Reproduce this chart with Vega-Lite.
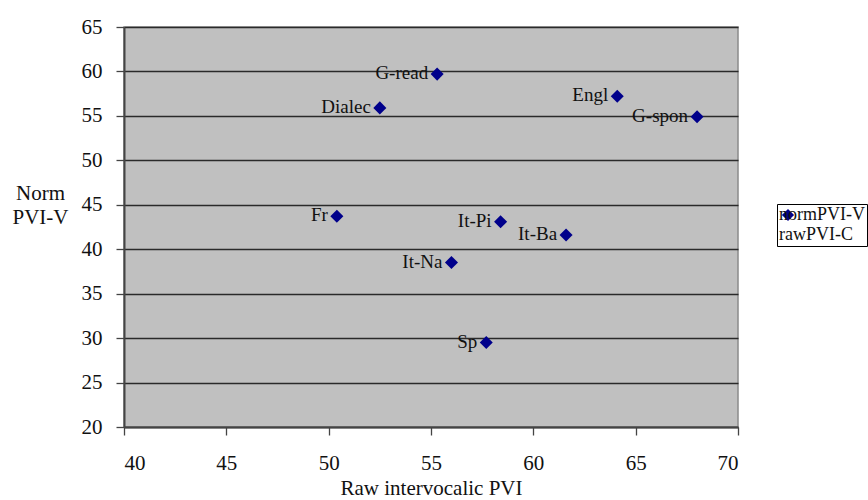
{
  "$schema": "https://vega.github.io/schema/vega-lite/v6.json",
  "width": 614,
  "height": 400,
  "autosize": "none",
  "padding": {"left": 124, "top": 27, "right": 130, "bottom": 73},
  "background": "white",
  "config": {
    "font": "Liberation Serif",
    "view": {"fill": "#C0C0C0", "stroke": "#8a8a8a", "strokeWidth": 1.5},
    "axis": {
      "labelFont": "Liberation Serif",
      "titleFont": "Liberation Serif",
      "labelColor": "#111",
      "titleColor": "#111",
      "labelFontSize": 21,
      "titleFontSize": 21,
      "titleFontWeight": "normal",
      "domainColor": "#444",
      "domainWidth": 2,
      "tickColor": "#444",
      "tickSize": 8,
      "tickWidth": 1.3
    },
    "legend": {
      "labelFont": "Liberation Serif",
      "labelFontSize": 18,
      "labelColor": "#111"
    }
  },
  "data": {
    "values": [
      {"lang": "G-read", "raw": 55.3, "norm": 59.7, "series": "normPVI-V"},
      {"lang": "Dialec", "raw": 52.5, "norm": 55.9, "series": "normPVI-V"},
      {"lang": "Engl", "raw": 64.1, "norm": 57.2, "series": "normPVI-V"},
      {"lang": "G-spon", "raw": 68.0, "norm": 54.9, "series": "normPVI-V"},
      {"lang": "Fr", "raw": 50.4, "norm": 43.7, "series": "normPVI-V"},
      {"lang": "It-Pi", "raw": 58.4, "norm": 43.1, "series": "normPVI-V"},
      {"lang": "It-Ba", "raw": 61.6, "norm": 41.6, "series": "normPVI-V"},
      {"lang": "It-Na", "raw": 56.0, "norm": 38.5, "series": "normPVI-V"},
      {"lang": "Sp", "raw": 57.7, "norm": 29.5, "series": "normPVI-V"}
    ]
  },
  "encoding": {
    "x": {
      "field": "raw",
      "type": "quantitative",
      "scale": {"domain": [40, 70], "nice": false, "zero": false},
      "axis": {
        "title": "Raw intervocalic PVI",
        "values": [40, 45, 50, 55, 60, 65, 70],
        "grid": false,
        "labelPadding": 17,
        "titlePadding": 4
      }
    },
    "y": {
      "field": "norm",
      "type": "quantitative",
      "scale": {"domain": [20, 65], "nice": false, "zero": false},
      "axis": {
        "title": ["Norm", "PVI-V"],
        "titleAngle": 0,
        "titleAlign": "center",
        "titleBaseline": "middle",
        "titleX": -84,
        "titleY": 166,
        "titleLineHeight": 24,
        "values": [20, 25, 30, 35, 40, 45, 50, 55, 60, 65],
        "grid": true,
        "gridColor": "#2a2a2a",
        "gridWidth": 1.4,
        "gridOpacity": 1,
        "labelPadding": 14
      }
    }
  },
  "layer": [
    {
      "mark": {"type": "point", "shape": "diamond", "filled": true, "size": 170, "opacity": 1},
      "encoding": {
        "color": {
          "field": "series",
          "type": "nominal",
          "scale": {"range": ["#00008B"]},
          "legend": {
            "title": null,
            "orient": "none",
            "legendX": 653,
            "legendY": 177,
            "strokeColor": "#000",
            "fillColor": "#fff",
            "padding": 2,
            "symbolSize": 150,
            "symbolType": "diamond",
            "symbolOffset": 0,
            "labelOffset": -18,
            "labelExpr": "['normPVI-V', 'rawPVI-C']"
          }
        }
      }
    },
    {
      "mark": {"type": "text", "align": "right", "baseline": "middle", "dx": -9, "dy": -1, "fontSize": 19, "font": "Liberation Serif", "color": "#111"},
      "encoding": {
        "text": {"field": "lang", "type": "nominal"}
      }
    }
  ]
}
